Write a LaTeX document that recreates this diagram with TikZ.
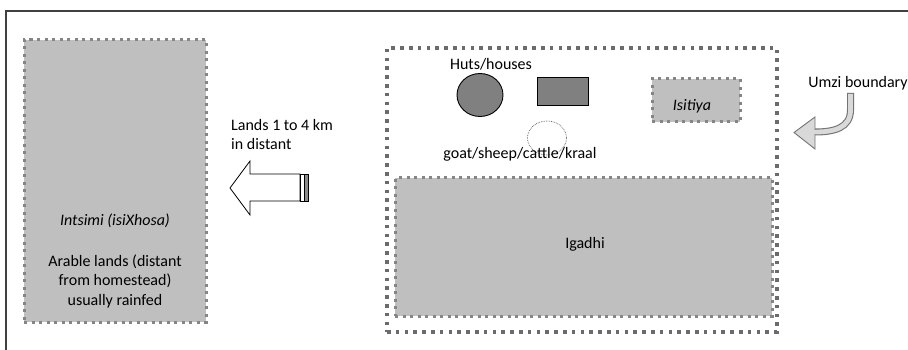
\documentclass[tikz,border=0pt]{standalone}
\usepackage{fontspec}
\setmainfont{Carlito}
\usetikzlibrary{shapes.geometric}
\begin{document}
\begin{tikzpicture}[x=1pt,y=-1pt,
  txt/.style={font=\fontsize{16}{19.5}\selectfont, inner sep=0pt, text=black},
  itxt/.style={txt, font=\fontsize{16}{19.5}\selectfont\itshape},
  landbox/.style={draw=black!48, fill=black!25, line width=3pt, dash pattern=on 3pt off 4.5pt, inner sep=0pt, outer sep=0pt},
  umzibox/.style={draw=black!58, line width=3.6pt, dash pattern=on 3.6pt off 5.2pt, inner sep=0pt, outer sep=0pt},
  hut/.style={draw=black, line width=0.9pt, fill=black!50},
  frameline/.style={draw=black!75, line width=1.4pt}]
\useasboundingbox (0,0) rectangle (908,350);

% page frame (top and left edges only)
\coordinate (fbl) at (6,350);
\coordinate (ftl) at (6,11);
\coordinate (ftr) at (908,11);
\draw[frameline] (fbl) -- (ftl) -- (ftr);

% arable lands
\node[landbox, minimum width=182, minimum height=282] (intsimi) at (115,181) {};
\node[itxt] (intsiminame) at (115,221) {Intsimi (isiXhosa)};
\node[txt, align=center] (intsimitext) at (115,281) {Arable lands (distant\\from homestead)\\usually rainfed};

% homestead boundary and its parts
\node[umzibox, minimum width=390, minimum height=284] (umzi) at (582,190) {};
\node[landbox, minimum width=377, minimum height=138] (igadhi) at (583.5,247) {};
\node[txt] (igadhitext) at (585,244) {Igadhi};
\node[landbox, minimum width=88, minimum height=43] (isitiya) at (696,100.5) {};
\node[itxt] (isitiyatext) at (692,106) {Isitiya};

% huts, house and kraal
\node[hut, ellipse, minimum width=46, minimum height=43, inner sep=0pt] (hutround) at (480,95) {};
\node[hut, rectangle, minimum width=51, minimum height=28, inner sep=0pt] (house) at (562.5,91) {};
\draw[black!65, line width=0.7pt, densely dotted, fill=white] (547,138) ellipse [x radius=19.5, y radius=17];
\node[txt] (hutslabel) at (491,64) {Huts/houses};
\node[txt] (kraallabel) at (520,154) {goat/sheep/cattle/kraal};

% block arrow towards the distant lands
\coordinate (atip) at (230,188);
\draw[black, line width=0.8pt, fill=white, line join=miter]
  (atip) -- (250,161) -- (250,174) -- (300,174) -- (300,201) -- (250,201) -- (250,215) -- cycle;
\draw[black, line width=0.8pt, fill=white] (300,174) rectangle (304,201);
\draw[black, line width=0.8pt, fill=black!45] (304,174) rectangle (308,201);
\node[txt, align=left, anchor=west] (landslabel) at (231,134.5) {Lands 1 to 4 km\\in distant};

% curved arrow pointing at the boundary
\node[txt] (umzilabel) at (858,83) {Umzi boundary};
\coordinate (cstart) at (850.5,93);
\coordinate (cbend) at (850.5,110);
\coordinate (cend) at (815,132);
\draw[black!55, line width=7pt] (cstart) -- (cbend) .. controls (850.5,128) and (834,132) .. (cend);
\draw[black!15, line width=4.8pt] ([yshift=-0.9pt]cstart) -- (cbend) .. controls (850.5,128) and (834,132) .. (cend);
\draw[black!55, line width=0.9pt, fill=black!15, line join=miter] (794,132.5) -- (815,117) -- (815,149) -- cycle;
\draw[black!15, line width=4.8pt] (818,132) -- (813.5,132);
\end{tikzpicture}
\end{document}
